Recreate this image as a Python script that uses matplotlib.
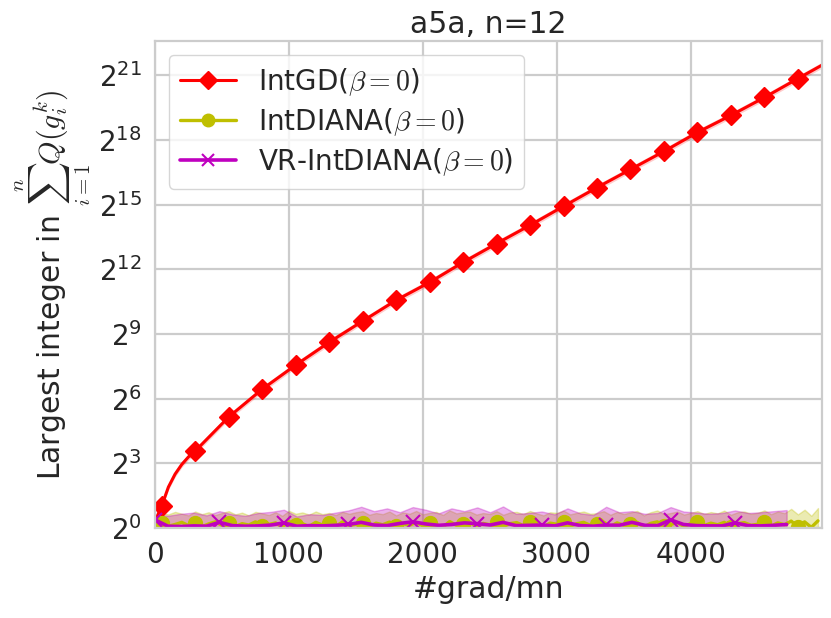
import numpy as np
import matplotlib
matplotlib.use("Agg")
import matplotlib.pyplot as plt
import seaborn as sns
from matplotlib.ticker import FixedLocator, LogFormatterSciNotation, NullLocator

sns.set_theme(style="whitegrid")
plt.rcParams['font.family'] = ['DejaVu Sans']
plt.rcParams['mathtext.fontset'] = 'cm'

RED = (1.0, 0.0, 0.0)
YEL = (0.75, 0.75, 0.0)
MAG = (0.75, 0.0, 0.75)

# IntGD: x (#grad/mn) and largest integer
red_x = [0, 50, 100, 150, 200, 250, 300, 550, 800, 1050, 1300, 1550, 1800, 2050,
         2300, 2550, 2800, 3050, 3300, 3550, 3800, 4050, 4300, 4550, 4800, 5000]
red_y = [1.23, 2.03, 3.73, 5.66, 7.73, 9.85, 11.88, 35.5, 86.8, 188.7, 393, 776,
         1520, 2702, 5148, 9410, 16960, 31210, 57050, 102100, 182700, 336300,
         581500, 1034000, 1900000, 3070000]
red_marks = [1] + list(range(6, 25))
RED_SPREAD = 1.1

# IntDIANA, every 50 grads
yel_x = np.arange(0, 5000, 50)
yel_y = [1.00, 1.18, 1.06, 1.12, 1.20, 1.08, 1.16, 1.04, 1.14, 1.22,
         1.09, 1.18, 1.05, 1.15, 1.10, 1.22, 1.07, 1.12, 1.18, 1.03,
         1.24, 1.09, 1.15, 1.05, 1.20, 1.10, 1.16, 1.05, 1.22, 1.08,
         1.13, 1.19, 1.04, 1.17, 1.11, 1.21, 1.06, 1.15, 1.09, 1.20,
         1.07, 1.18, 1.12, 1.03, 1.23, 1.09, 1.14, 1.20, 1.05, 1.16,
         1.11, 1.22, 1.05, 1.15, 1.19, 1.08, 1.20, 1.10, 1.04, 1.17,
         1.13, 1.23, 1.06, 1.15, 1.20, 1.09, 1.12, 1.21, 1.05, 1.18,
         1.09, 1.14, 1.20, 1.03, 1.16, 1.22, 1.07, 1.12, 1.19, 1.05,
         1.15, 1.21, 1.08, 1.17, 1.11, 1.20, 1.04, 1.15, 1.19, 1.09,
         1.13, 1.22, 1.06, 1.18, 1.11, 1.25, 1.04, 1.22, 1.02, 1.26]
yel_hi = [1.35, 1.62, 1.55, 1.68, 1.58, 1.50, 1.70, 1.56, 1.66, 1.52,
          1.62, 1.72, 1.55, 1.64, 1.50, 1.68, 1.60, 1.52, 1.66, 1.48,
          1.74, 1.58, 1.65, 1.54, 1.70, 1.56, 1.62, 1.52, 1.68, 1.58,
          1.66, 1.72, 1.53, 1.62, 1.56, 1.70, 1.50, 1.65, 1.58, 1.73,
          1.55, 1.63, 1.68, 1.52, 1.76, 1.60, 1.66, 1.70, 1.54, 1.62,
          1.57, 1.72, 1.53, 1.65, 1.68, 1.56, 1.73, 1.60, 1.50, 1.66,
          1.62, 1.75, 1.55, 1.63, 1.70, 1.58, 1.61, 1.72, 1.53, 1.68,
          1.57, 1.65, 1.73, 1.50, 1.66, 1.76, 1.56, 1.62, 1.70, 1.54,
          1.63, 1.72, 1.57, 1.67, 1.60, 1.75, 1.53, 1.66, 1.70, 1.58,
          1.63, 1.76, 1.56, 1.70, 1.61, 1.85, 1.55, 1.80, 1.48, 1.90]

# VR-IntDIANA
mag_x = np.linspace(0, 4716, 50)
mag_y = [1.30, 1.06, 1.05, 1.07, 1.06, 1.20, 1.08, 1.06, 1.07, 1.10,
         1.18, 1.06, 1.08, 1.07, 1.09, 1.12, 1.20, 1.10, 1.08, 1.16,
         1.22, 1.14, 1.09, 1.12, 1.18, 1.15, 1.10, 1.20, 1.08, 1.09,
         1.10, 1.07, 1.18, 1.08, 1.06, 1.10, 1.09, 1.20, 1.09, 1.08,
         1.30, 1.12, 1.08, 1.07, 1.07, 1.18, 1.08, 1.07, 1.09, 1.12]
mag_hi = [1.55, 1.48, 1.58, 1.64, 1.50, 1.72, 1.55, 1.48, 1.62, 1.68,
          1.80, 1.45, 1.56, 1.52, 1.64, 1.76, 1.98, 1.72, 1.88, 1.66,
          1.96, 1.80, 1.60, 1.88, 1.72, 1.94, 1.66, 2.00, 1.58, 1.62,
          1.70, 1.55, 1.88, 1.60, 1.52, 1.98, 1.66, 1.72, 1.58, 1.62,
          1.96, 1.70, 1.64, 1.58, 1.62, 1.76, 1.62, 1.66, 1.72, 1.78]

fig = plt.figure(figsize=(8.31, 6.18), dpi=100)
ax = fig.add_axes([155/831, 1-528/618, (822-155)/831, (528-41)/618])

ax.fill_between(red_x, np.array(red_y)/RED_SPREAD, np.array(red_y)*RED_SPREAD,
                color=RED, alpha=0.2, lw=0)
ax.fill_between(yel_x, 0.9, yel_hi, color=YEL, alpha=0.3, lw=1)
ax.fill_between(mag_x, 0.9, mag_hi, color=MAG, alpha=0.3, lw=1)

ax.plot(red_x, red_y, color=RED, marker='D', markersize=10, lw=2.2,
        markevery=red_marks, label=r'IntGD($\beta=0$)')
ax.plot(yel_x, yel_y, color=YEL, marker='o', markersize=10, lw=2.4,
        markevery=(1, 5), label=r'IntDIANA($\beta=0$)')
ax.plot(mag_x, mag_y, color=MAG, marker='x', markersize=10, mew=1.5, lw=2.6,
        markevery=5, label=r'VR-IntDIANA($\beta=0$)')

ax.set_yscale('log', base=2)
ax.set_ylim(1, 2**22.6)
ax.set_xlim(0, 4980)
ax.yaxis.set_major_locator(FixedLocator([2**k for k in range(0, 22, 3)]))
ax.yaxis.set_major_formatter(LogFormatterSciNotation(base=2))
ax.yaxis.set_minor_locator(NullLocator())
ax.set_xticks([0, 1000, 2000, 3000, 4000])

ax.grid(True, color='.8', lw=1.6)
for sp in ax.spines.values():
    sp.set_color('.8')
    sp.set_linewidth(1.6)

ax.tick_params(labelsize=20)
ax.set_title('a5a, n=12', fontsize=21.5)
ax.set_xlabel('#grad/mn', fontsize=21.5)
ax.set_ylabel(r'Largest integer in $\sum_{i=1}^{n} Q(g_i^k)$', fontsize=21.5)
ax.legend(loc='upper left', fontsize=20, labelspacing=0.3, markerscale=0.9)

fig.savefig('out.png', dpi=100)
